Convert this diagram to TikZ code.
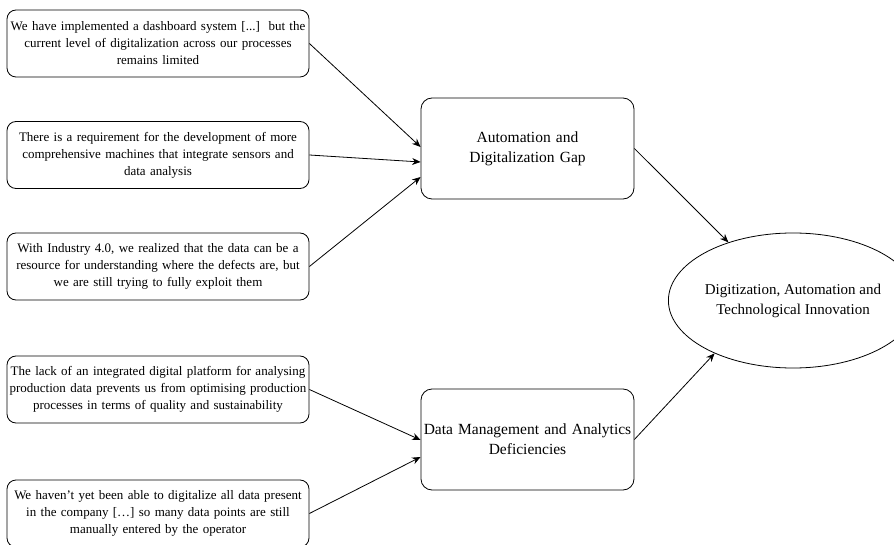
\documentclass[tikz,border=0pt]{standalone}
\usepackage{fontspec}
\setmainfont{Liberation Serif}
\usepackage{tikz}
\usetikzlibrary{arrows.meta,shapes.geometric}

\begin{document}
\begin{tikzpicture}[x=1pt,y=-1pt,line width=0.8pt,>={Stealth[length=8.5pt,width=7pt]},
    quote/.style={draw,rounded corners=9pt,minimum width=302pt,minimum height=67pt,
        text width=300pt,inner sep=1pt,align=center,font=\fontsize{13}{17}\selectfont},
    theme/.style={draw,rounded corners=11pt,minimum width=213pt,minimum height=101pt,
        text width=211pt,inner sep=1pt,align=center,font=\fontsize{15.5}{20}\selectfont},
    goalshape/.style={draw,ellipse,minimum width=202pt,minimum height=135pt,inner sep=0pt,
        align=center,font=\fontsize{15}{20}\selectfont}]
    \useasboundingbox (0,0) rectangle (894,545);
                    \foreach \y/\mylab/\mytext in {
                        43.5/q1/{We have implemented a dashboard system [...]\ \ but the\\current level of digitalization across our processes\\remains limited},
                        155/q2/{There is a requirement for the development of more\\comprehensive machines that integrate sensors and\\data analysis},
                        266.5/q3/{With Industry 4.0, we realized that the data can be a\\resource for understanding where the defects are, but\\we are still trying to fully exploit them},
                        389.5/q4/{The lack of an integrated digital platform for analysing\\production data prevents us from optimising production\\processes in terms of quality and sustainability},
                        513.5/q5/{We haven't yet been able to digitalize all data present\\in the company [\dots] so many data points are still\\manually entered by the operator}} {
                        \node[quote] (\mylab) at (158,\y) {\mytext};
                    }
                    \node[theme] (gap) at (527.5,148.5) {Automation and\\Digitalization Gap};
                    \node[theme] (data) at (527.5,439.5) {Data Management and Analytics\\Deficiencies};
                    \node[goalshape] (goal) at (793,300.5) {Digitization, Automation and\\Technological Innovation};

                    \draw[->](q1.east) -- ([yshift=1.5pt]gap.west);
                    \draw[->](q2.east) -- ([yshift=-13.5pt]gap.west);
                    \draw[->](q3.east) -- ([yshift=-28.5pt]gap.west);
                    \draw[->](q4.east) -- ([yshift=-0.5pt]data.west);
                    \draw[->](q5.east) -- ([yshift=-17.5pt]data.west);
                    \draw[->](gap.east) -- (goal.138);
                    \draw[->](data.east) -- (goal.214);
                \end{tikzpicture}
\end{document}
